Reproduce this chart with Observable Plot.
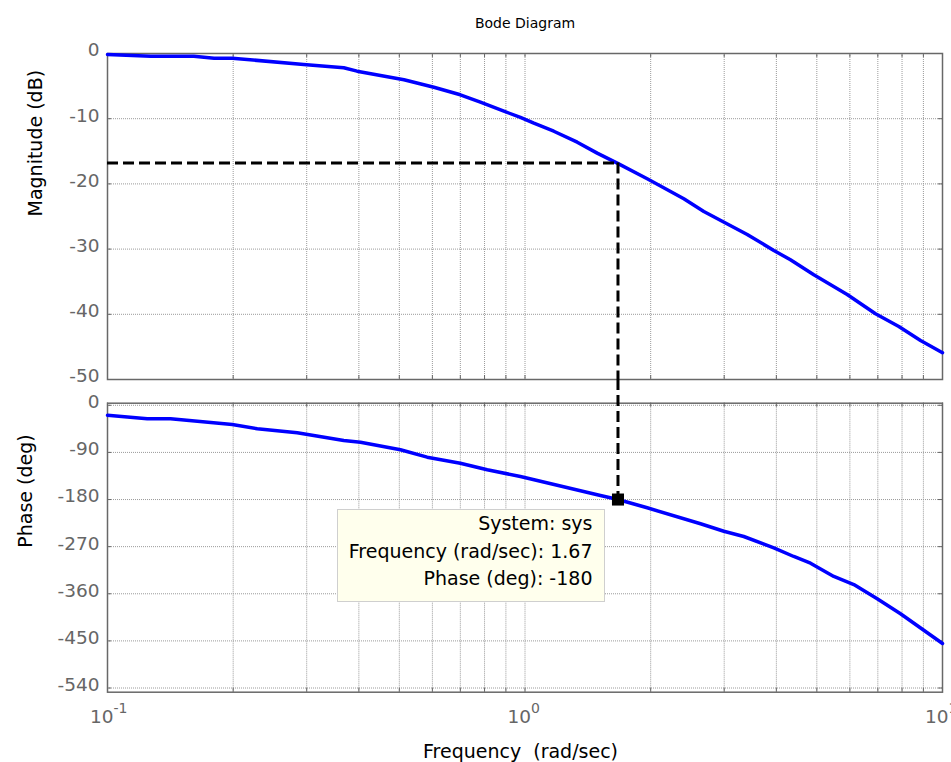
<!DOCTYPE html>
<html>
<head>
<meta charset="utf-8">
<script src="https://cdn.jsdelivr.net/npm/d3@7"></script>
<script src="https://cdn.jsdelivr.net/npm/@observablehq/plot@0.6"></script>
<style>
  html, body { margin: 0; padding: 0; background: #fff; }
  #root { position: relative; width: 951px; height: 762px; overflow: hidden; background: #fff; font-family: "DejaVu Sans", sans-serif; }
  #root svg { position: absolute; left: 0; top: 0; }
  #tip { position: absolute; background: #ffffed; border: 1px solid #cfcfcf; color: #000;
         font-family: "DejaVu Sans", sans-serif; font-size: 19px; line-height: 27.5px;
         text-align: right; padding: 0 11.5px 8px 11px; white-space: pre; box-sizing: border-box; }
</style>
</head>
<body>
<div id="root"></div>
<script>
// ---------------- data ----------------
const titleText = "Bode Diagram";
const magLabel = "Magnitude (dB)";
const phaseLabel = "Phase (deg)";
const xLabel = "Frequency  (rad/sec)";

const xDomain = [0.1, 10];
const xTicks = [0.1, 1, 10];
const xTickBase = "10";
const xTickExponents = ["-1", "0", "1"];
const xMinorTicks = [0.2, 0.3, 0.4, 0.5, 0.6, 0.7, 0.8, 0.9, 2, 3, 4, 5, 6, 7, 8, 9];
const magDomain = [-50, 0];
const magTicks = [0, -10, -20, -30, -40, -50];
const phaseDomain = [-548, 4];
const phaseTicks = [0, -90, -180, -270, -360, -450, -540];

const magFreq = [0.1, 0.127, 0.161, 0.18, 0.199, 0.295, 0.368, 0.396, 0.513, 0.605, 0.70, 0.782, 0.89, 0.975,
                 1.05, 1.172, 1.334, 1.489, 1.663, 1.962, 2.401, 2.681, 3.406, 3.945, 4.323, 4.917, 5.911,
                 6.911, 7.859, 8.859, 10];
const magDb = [-0.15, -0.41, -0.41, -0.72, -0.72, -1.69, -2.19, -2.71, -4.03, -5.17, -6.33, -7.47, -8.85, -9.8,
               -10.69, -11.92, -13.6, -15.28, -16.81, -19.22, -22.29, -24.23, -27.76, -30.21, -31.64, -33.94, -36.96,
               -39.92, -41.87, -44.02, -45.9];

const phaseFreq = [0.1, 0.1245, 0.1416, 0.199, 0.2284, 0.2847, 0.368, 0.4036, 0.5032, 0.583, 0.70, 0.812, 0.975,
                   1.516, 1.67, 1.962, 2.633, 2.994, 3.342, 3.945, 4.403, 4.829, 5.491, 6.132, 6.976, 7.933, 10];
const phaseDeg = [-18.9, -25.8, -25.8, -36.7, -44.9, -52.5, -67.2, -70.5, -85, -99.1, -110.6, -123.2, -136,
                  -172.3, -180, -195.8, -226.3, -240.5, -250.6, -272.2, -288.8, -301.6, -327, -342.3, -369.6, -398.2, -455];

const tipSystem = "sys";
const tipF = 1.67;
const tipMag = -16.8;
const tipPhase = -180;

// ---------------- layout ----------------
const W = 951, H = 762;
const frameL = 107, frameR = 942;
const magTop = 53, magBottom = 379;
const phTop = 402.7, phBottom = 691.7;
const frameW = frameR - frameL;
const axisGray = "#686868";
const labelGray = "#666";
const gridColor = "#9a9a9a";
const lineBlue = "#0000ff";

const magData = magFreq.map((f, i) => ({f, v: magDb[i]}));
const phaseData = phaseFreq.map((f, i) => ({f, v: phaseDeg[i]}));
const tip = [{f: tipF, mag: tipMag, phase: tipPhase}];
const xGrid = [...xMinorTicks, ...xTicks];

function panel({yDomain, yTicks, top, bottom, data, extra}) {
  const frameH = bottom - top;
  return Plot.plot({
    width: W, height: H,
    marginLeft: frameL, marginRight: W - frameR, marginTop: top, marginBottom: H - bottom,
    x: {type: "log", domain: xDomain, axis: null, label: null},
    y: {domain: yDomain, axis: null, label: null},
    style: {fontFamily: "DejaVu Sans", fontSize: "18.5px", background: "transparent", overflow: "visible"},
    marks: [
      Plot.ruleX(xGrid, {x: d => d, stroke: gridColor, strokeDasharray: "1,1"}),
      Plot.ruleY(yTicks, {y: d => d, stroke: gridColor, strokeDasharray: "1,1"}),
      Plot.tickX(xGrid, {x: d => d, stroke: axisGray, insetBottom: frameH - 4}),
      Plot.tickX(xGrid, {x: d => d, stroke: axisGray, insetTop: frameH - 4}),
      Plot.tickY(yTicks, {y: d => d, stroke: axisGray, insetRight: frameW - 4}),
      Plot.tickY(yTicks, {y: d => d, stroke: axisGray, insetLeft: frameW - 4}),
      Plot.frame({stroke: axisGray, strokeWidth: 1.5}),
      Plot.axisY({ticks: yTicks, tickSize: 0, tickPadding: 8, color: labelGray, dy: -3, label: null,
                  tickFormat: d => String(d), fontSize: 18.5}),
      Plot.line(data, {x: "f", y: "v", stroke: lineBlue, strokeWidth: 3.5, strokeLinejoin: "round"}),
      ...extra
    ]
  });
}

const dash = {stroke: "#000", strokeWidth: 3, strokeDasharray: "11,5"};

const magPlot = panel({
  yDomain: magDomain, yTicks: magTicks, top: magTop, bottom: magBottom, data: magData,
  extra: [
    Plot.ruleY(tip, {y: "mag", x1: () => xDomain[0], x2: "f", ...dash}),
    Plot.ruleX(tip, {x: "f", y1: "mag", y2: () => magDomain[0], ...dash}),
    Plot.text([titleText], {text: d => d, frameAnchor: "top", lineAnchor: "bottom", dy: -26, fontSize: 14, fill: "#000"}),
    Plot.text([magLabel], {text: d => d, frameAnchor: "left", rotate: -90, lineAnchor: "bottom", dx: -66, fontSize: 19, fill: "#000"})
  ]
});

const phasePlot = panel({
  yDomain: phaseDomain, yTicks: phaseTicks, top: phTop, bottom: phBottom, data: phaseData,
  extra: [
    Plot.ruleX(tip, {x: "f", y1: () => phaseDomain[1], y2: "phase", insetTop: -(phTop - magBottom), ...dash}),
    Plot.dot(tip, {x: "f", y: "phase", symbol: "square", r: 6.8, fill: "#000"}),
    Plot.text(xTicks, {x: d => d, text: () => xTickBase, frameAnchor: "bottom", textAnchor: "end", lineAnchor: "bottom",
                       dx: 6, dy: 31, fontSize: 18.5, fill: labelGray}),
    Plot.text(xTicks, {x: d => d, text: (d, i) => xTickExponents[i], frameAnchor: "bottom", textAnchor: "start", lineAnchor: "bottom",
                       dx: 6, dy: 21, fontSize: 14, fill: labelGray}),
    Plot.text([xLabel], {text: d => d, frameAnchor: "bottom", lineAnchor: "bottom", dx: -4.5, dy: 65.6, fontSize: 19, fill: "#000"}),
    Plot.text([phaseLabel], {text: d => d, frameAnchor: "left", rotate: -90, lineAnchor: "bottom", dx: -76, fontSize: 19, fill: "#000"})
  ]
});

const root = document.getElementById("root");
root.appendChild(magPlot);
root.appendChild(phasePlot);

// datatip box anchored to the marker through the plot's scales
const sx = phasePlot.scale("x"), sy = phasePlot.scale("y");
const px = sx.apply(tipF), py = sy.apply(tipPhase);
const box = document.createElement("div");
box.id = "tip";
box.textContent = [`System: ${tipSystem}`, `Frequency (rad/sec): ${tipF}`, `Phase (deg): ${tipPhase}`].join("\n");
box.style.right = (W - (px - 12.5)) + "px";
box.style.top = (py + 10) + "px";
root.appendChild(box);
</script>
</body>
</html>
